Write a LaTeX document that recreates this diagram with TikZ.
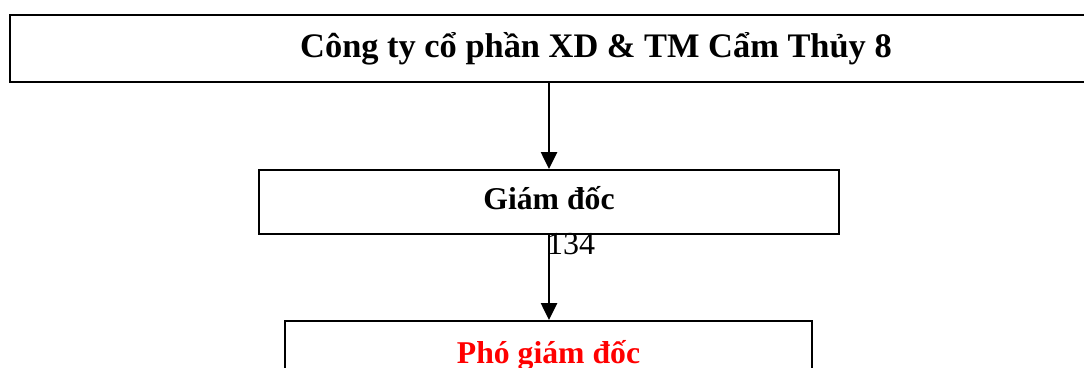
\documentclass[tikz,border=0pt]{standalone}
\usepackage{fontspec}
\setmainfont{Liberation Serif}
\usetikzlibrary{arrows.meta}

\tikzset{
  orgbox/.style={draw, line width=2pt, inner sep=0pt,
    text height=22pt, text depth=7.4pt,
    font=\fontsize{31.7}{38}\selectfont\bfseries},
  orgarrow/.style={-{Triangle[width=16pt,length=17pt]}, line width=2.6pt}
}

\begin{document}
\begin{tikzpicture}[x=1pt,y=-1pt]
    \clip (0,0) rectangle (1084,367);
    \useasboundingbox (0,0) rectangle (1084,367);
    %% company box, runs off the right edge
    \node [orgbox, minimum width=1172pt, minimum height=67pt,
      text height=24pt, text depth=7pt,
      font=\fontsize{34.4}{41}\selectfont\bfseries] (cty) at (596,48.5)
      {Công ty cổ phần XD \& TM Cẩm Thủy 8};
    \node [orgbox, minimum width=580pt, minimum height=64pt] (gd) at (549,202)
      {Giám đốc};
    \node [orgbox, minimum width=527pt, minimum height=71pt, text=red] (pgd) at (548.5,356.5)
      {Phó giám đốc};
    \draw [orgarrow] (cty.south -| gd.north) -- (gd.north);
    \draw [orgarrow] (gd.south) -- (gd.south |- pgd.north);
    %% page number sitting over the line
    \node [font=\fontsize{32}{38}\selectfont, inner sep=0pt] (pg) at (571,244) {134};
\end{tikzpicture}
\end{document}
